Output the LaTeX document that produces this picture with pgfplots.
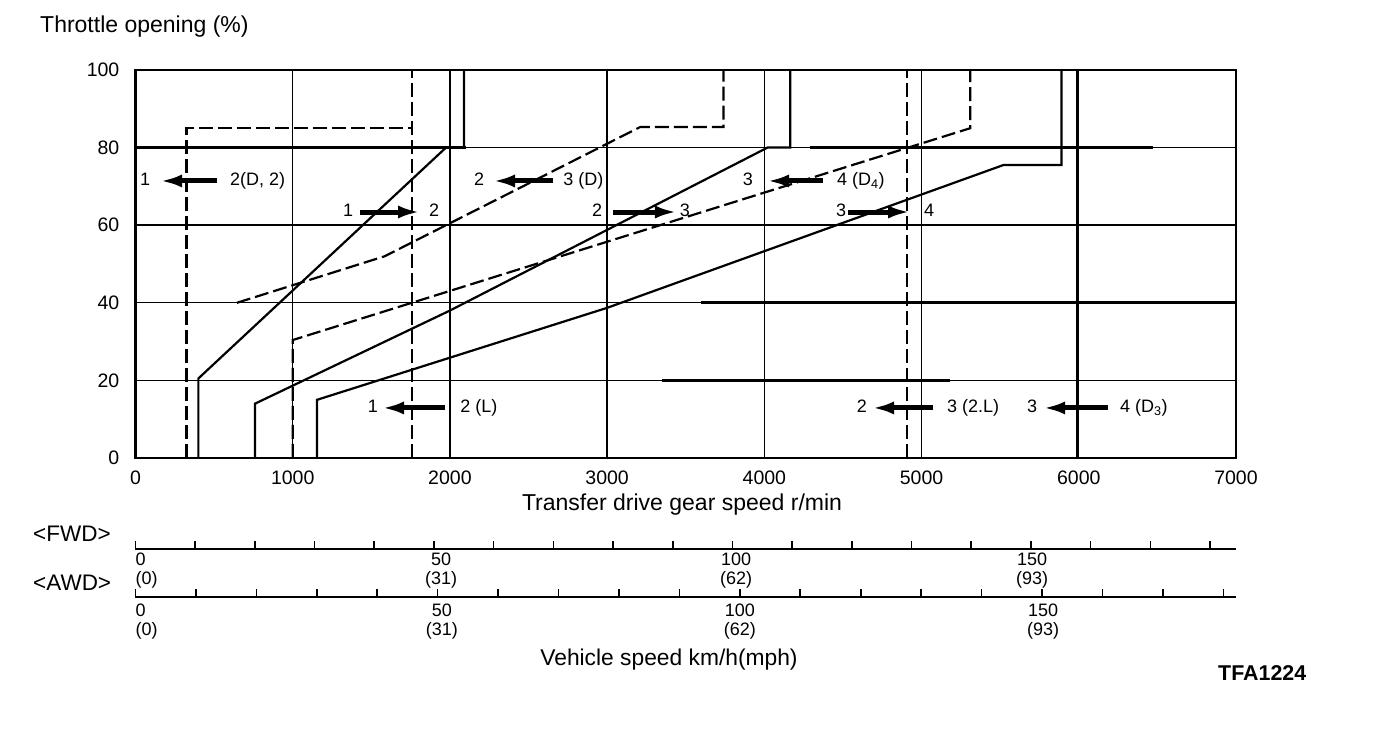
\documentclass[border=0pt]{standalone}
\usepackage{fontspec}
\setmainfont{Liberation Sans}
\usepackage{pgfplots}
\pgfplotsset{compat=1.18}
\usetikzlibrary{arrows.meta}
\tikzset{
  up/.style={black, line width=2.2pt, line join=miter},
  down/.style={black, line width=2.2pt, dash pattern=on 14pt off 5pt},
  arr/.style={line width=5pt, -{Latex[length=22pt,width=13pt]}},
  lab/.style={font=\fontsize{18}{20}\selectfont, inner sep=0pt, text height=13pt, text depth=3.5pt},
  sub/.style={font=\fontsize{18}{18.5}\selectfont, inner sep=0pt},
}
\begin{document}
\begin{tikzpicture}
\path[use as bounding box] (-135.5pt,-280pt) rectangle (1240.5pt,458pt);
\begin{axis}[
  at={(0pt,0pt)}, anchor=south west,
  scale only axis, width=1100.5pt, height=388pt,
  xmin=0, xmax=7000, ymin=0, ymax=100,
  xtick={0,1000,...,7000}, ytick={0,20,...,100},
  grid=major, major grid style={black, line width=1.4pt},
  major tick length=0pt,
  axis line style={line width=2.4pt},
  /pgf/number format/assume math mode=true,
  /pgf/number format/1000 sep={},
  ticklabel style={font=\fontsize{19.5}{22}\selectfont},
  xticklabel style={anchor=north, inner sep=0pt, yshift=-13pt},
  yticklabel style={anchor=east, inner sep=0pt, xshift=-16pt},
  clip=false,
]
% thicker grid segments
\draw[line width=2.6pt] (axis cs:0,80) -- (axis cs:2100,80);
\draw[line width=2.6pt] (axis cs:4290,80) -- (axis cs:6470,80);
\draw[line width=2.6pt] (axis cs:3600,40) -- (axis cs:7000,40);
\draw[line width=2.6pt] (axis cs:3350,20) -- (axis cs:5180,20);
% upshift lines
\addplot[up] coordinates {(400,0)(400,20.5)(1975,80)(2090,80)(2090,100)};
\addplot[up] coordinates {(760,0)(760,14)(2000,38)(4020,80)(4165,80)(4165,100)};
\addplot[up] coordinates {(1155,0)(1155,15)(3000,38.7)(5520,75.5)(5890,75.5)(5890,100)};
% downshift lines
\addplot[down] coordinates {(325,0)(325,85)(1760,85)};
\addplot[down] coordinates {(645,40)(1585,52)(3210,85.3)(3740,85.3)(3740,100)};
\addplot[down] coordinates {(1000,0)(1000,30.4)(5310,85)(5310,100)};
\addplot[down] coordinates {(1760,0)(1760,100)};
\addplot[down] coordinates {(4905,0)(4905,100)};
\addplot[up, line width=2.4pt] coordinates {(5990,0)(5990,100)};
% annotations row 1
\node[lab] at (axis cs:61,71.4) {1};
\draw[arr] (axis cs:518,71.4) -- (axis cs:156,71.4);
\node[lab, anchor=west] at (axis cs:601,71.4) {2(D, 2)};
\node[lab] at (axis cs:2185,71.4) {2};
\draw[arr] (axis cs:2656,71.4) -- (axis cs:2274,71.4);
\node[lab, anchor=west] at (axis cs:2720,71.4) {3 (D)};
\node[lab] at (axis cs:3896,71.4) {3};
\draw[arr] (axis cs:4373,71.4) -- (axis cs:4017,71.4);
\node[lab, anchor=west] at (axis cs:4462,71.4) {4 (D\textsubscript{4})};
% row 2
\node[lab] at (axis cs:1352,63.4) {1};
\draw[arr] (axis cs:1428,63.4) -- (axis cs:1810,63.4);
\node[lab] at (axis cs:1899,63.4) {2};
\node[lab] at (axis cs:2936,63.4) {2};
\draw[arr] (axis cs:3037,63.4) -- (axis cs:3444,63.4);
\node[lab] at (axis cs:3495,63.4) {3};
\node[lab] at (axis cs:4488,63.4) {3};
\draw[arr] (axis cs:4532,63.4) -- (axis cs:4927,63.4);
\node[lab] at (axis cs:5048,63.4) {4};
% row 3
\node[lab] at (axis cs:1510,12.9) {1};
\draw[arr] (axis cs:1968,12.9) -- (axis cs:1568,12.9);
\node[lab, anchor=west] at (axis cs:2065,12.9) {2 (L)};
\node[lab] at (axis cs:4621,12.9) {2};
\draw[arr] (axis cs:5073,12.9) -- (axis cs:4685,12.9);
\node[lab, anchor=west] at (axis cs:5162,12.9) {3 (2.L)};
\node[lab] at (axis cs:5703,12.9) {3};
\draw[arr] (axis cs:6186,12.9) -- (axis cs:5773,12.9);
\node[lab, anchor=west] at (axis cs:6262,12.9) {4 (D\textsubscript{3})};
\end{axis}
% FWD scale
\begin{axis}[
  at={(0pt,-91pt)}, anchor=south west,
  scale only axis, width=1100.5pt, height=20pt,
  xmin=0, xmax=184.35, ymin=0, ymax=1,
  axis x line*=bottom, axis y line=none, ytick=\empty,
  x axis line style={-, line width=2pt},
  xtick={0,10,...,180}, xticklabels={},
  tick align=inside, major tick length=8pt,
  every tick/.style={black, line width=1.6pt},
  clip=false,
]
\node[sub, anchor=north west, align=left, yshift=-4pt] at (axis cs:0,0) {0\\(0)};
\node[sub, anchor=north, align=center, yshift=-4pt] at (axis cs:51.2,0) {50\\(31)};
\node[sub, anchor=north, align=center, yshift=-4pt] at (axis cs:100.6,0) {100\\(62)};
\node[sub, anchor=north, align=center, yshift=-4pt] at (axis cs:150.2,0) {150\\(93)};
\end{axis}
% AWD scale
\begin{axis}[
  at={(0pt,-139pt)}, anchor=south west,
  scale only axis, width=1100.5pt, height=20pt,
  xmin=0, xmax=182.1, ymin=0, ymax=1,
  axis x line*=bottom, axis y line=none, ytick=\empty,
  x axis line style={-, line width=2.8pt},
  xtick={0,10,...,180}, xticklabels={},
  tick align=inside, major tick length=8pt,
  every tick/.style={black, line width=1.6pt},
  clip=false,
]
\node[sub, anchor=north west, align=left, yshift=-7pt] at (axis cs:0,0) {0\\(0)};
\node[sub, anchor=north, align=center, yshift=-7pt] at (axis cs:50.7,0) {50\\(31)};
\node[sub, anchor=north, align=center, yshift=-7pt] at (axis cs:100,0) {100\\(62)};
\node[sub, anchor=north, align=center, yshift=-7pt] at (axis cs:150.2,0) {150\\(93)};
\end{axis}
% texts outside
\node[anchor=west, inner sep=0pt, font=\fontsize{23}{26}\selectfont] at (-95.5pt,431pt) {Throttle opening (\%)};
\node[inner sep=0pt, font=\fontsize{23}{26}\selectfont] at (546.5pt,-47pt) {Transfer drive gear speed r/min};
\node[anchor=west, inner sep=0pt, font=\fontsize{22.5}{26}\selectfont] at (-102.5pt,-76pt) {\textless FWD\textgreater};
\node[anchor=west, inner sep=0pt, font=\fontsize{22.5}{26}\selectfont] at (-102.5pt,-125pt) {\textless AWD\textgreater};
\node[inner sep=0pt, font=\fontsize{22.8}{26}\selectfont] at (533.5pt,-202pt) {Vehicle speed km/h(mph)};
\node[anchor=west, inner sep=0pt, font=\fontsize{21.4}{24}\selectfont\bfseries] at (1082.5pt,-215pt) {TFA1224};
\end{tikzpicture}
\end{document}
